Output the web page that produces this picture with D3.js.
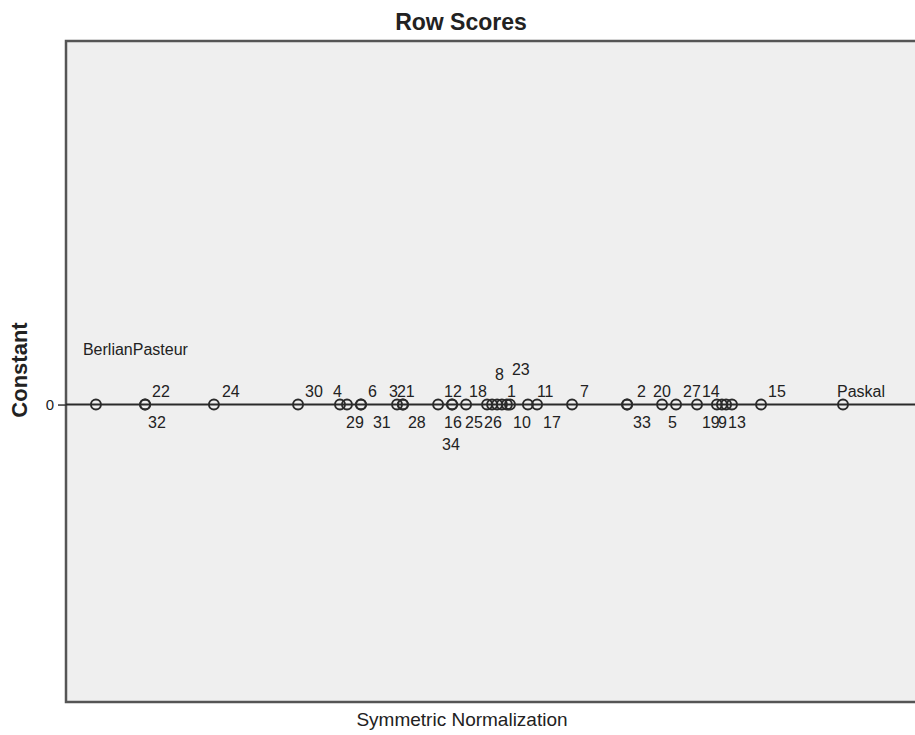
<!DOCTYPE html>
<html>
<head>
<meta charset="utf-8">
<title>Row Scores</title>
<script src="https://cdn.jsdelivr.net/npm/d3@7"></script>
<style>
  body { margin: 0; background: #fff; }
  text { font-family: "Liberation Sans", Arial, sans-serif; fill: #222; }
  .title { font-weight: bold; }
  .axis-title { font-weight: bold; }
</style>
</head>
<body>
<div id="vis"></div>
<script>

// row points (names) and their scores on the single dimension
var rowNames = ['BerlianPasteur', '22', '32', '24', '30', '4', '29', '6', '31',
  '3', '21', '28', '12', '16', '34', '25', '18', '26', '8', '23', '1', '10',
  '11', '17', '7', '2', '33', '20', '5', '27', '14', '19', '9', '13', '15', 'Paskal'];

var rowScores = [-1.663, -1.438, -1.438, -1.123, -0.738, -0.546, -0.514, -0.450, -0.450,
  -0.285, -0.258, -0.258, -0.097, -0.033, -0.033, 0.031, 0.127, 0.150, 0.173, 0.195, 0.218, 0.232,
  0.314, 0.356, 0.516, 0.768, 0.768, 0.928, 0.992, 1.088, 1.179, 1.202, 1.221, 1.248, 1.381, 1.756];

// second axis is a constant, so every point sits on 0
var yTicks = [0];

// label placement (offset of text start from point), like the spss layout
var labelOffsets = {
  'BerlianPasteur': [-13, -50], '22': [7, -8], '32': [3, 23], '24': [8, -8],
  '30': [7, -8], '4': [-7, -8], '29': [-1, 23], '6': [7, -8], '31': [12, 23],
  '3': [-8, -8], '21': [-6, -8], '28': [5, 23], '12': [6, -8], '16': [-8, 23],
  '34': [-10, 45], '25': [-1, 23], '18': [-18, -8], '26': [-8, 23], '8': [-2, -25],
  '23': [10, -30], '1': [0, -8], '10': [3, 23], '11': [9, -8], '17': [6, 23],
  '7': [8, -8], '2': [10, -8], '33': [6, 23], '20': [-9, -8], '5': [-8, 23],
  '27': [-14, -8], '14': [-15, -8], '19': [-20, 23], '9': [-8, 23], '13': [-4, 23],
  '15': [7, -8], 'Paskal': [-6, -8]
};

var width = 915;
var height = 735;
var margin = { top: 41, left: 66, bottom: 33, right: -25 };

var data = rowNames.map(function(d, i) {
  return { name: d, score: rowScores[i] };
});

var svg = d3.select('#vis').append('svg')
  .attr('width', width)
  .attr('height', height);

var xScale = d3.scaleLinear()
  .domain([-1.8, 2.2])
  .range([margin.left, width - margin.right]);

var yScale = d3.scaleLinear()
  .domain([-0.9, 1.1])
  .range([height - margin.bottom, margin.top]);

// plot background + frame
svg.append('rect')
  .attr('x', margin.left)
  .attr('y', margin.top)
  .attr('width', width - margin.right - margin.left)
  .attr('height', height - margin.bottom - margin.top)
  .attr('fill', '#efefef')
  .attr('stroke', '#555')
  .attr('stroke-width', 2.5);

// y axis, only the 0 tick
var yAxis = d3.axisLeft(yScale)
  .tickValues(yTicks)
  .tickSize(8)
  .tickPadding(4)
  .tickFormat(d3.format('d'));

var gy = svg.append('g')
  .attr('transform', 'translate(' + margin.left + ',0)')
  .call(yAxis);
gy.select('.domain').remove();
gy.selectAll('.tick line').attr('stroke', '#333').attr('stroke-width', 1.5);
gy.selectAll('.tick text')
  .style('font-family', '"Liberation Sans", Arial, sans-serif')
  .style('font-size', '15px')
  .attr('fill', '#222');

// zero line
svg.append('line')
  .attr('x1', margin.left)
  .attr('x2', width)
  .attr('y1', yScale(0))
  .attr('y2', yScale(0))
  .attr('stroke', '#2a2a2a')
  .attr('stroke-width', 2);

// points
svg.selectAll('.pt')
  .data(data)
  .enter().append('circle')
  .attr('class', 'pt')
  .attr('cx', function(d) { return xScale(d.score); })
  .attr('cy', yScale(0))
  .attr('r', 5)
  .attr('fill', 'none')
  .attr('stroke', '#2a2a2a')
  .attr('stroke-width', 1.9);

// point labels
svg.selectAll('.lbl')
  .data(data)
  .enter().append('text')
  .attr('class', 'lbl')
  .attr('x', function(d) { return xScale(d.score) + labelOffsets[d.name][0]; })
  .attr('y', function(d) { return yScale(0) + labelOffsets[d.name][1]; })
  .style('font-size', '16px')
  .text(function(d) { return d.name; });

// titles
svg.append('text')
  .attr('class', 'title')
  .attr('x', 461)
  .attr('y', 30)
  .attr('text-anchor', 'middle')
  .style('font-size', '23px')
  .text('Row Scores');

svg.append('text')
  .attr('x', 462)
  .attr('y', 726)
  .attr('text-anchor', 'middle')
  .style('font-size', '19px')
  .text('Symmetric Normalization');

svg.append('text')
  .attr('class', 'axis-title')
  .attr('transform', 'translate(27,' + 370 + ') rotate(-90)')
  .attr('text-anchor', 'middle')
  .style('font-size', '22px')
  .text('Constant');

</script>
</body>
</html>
